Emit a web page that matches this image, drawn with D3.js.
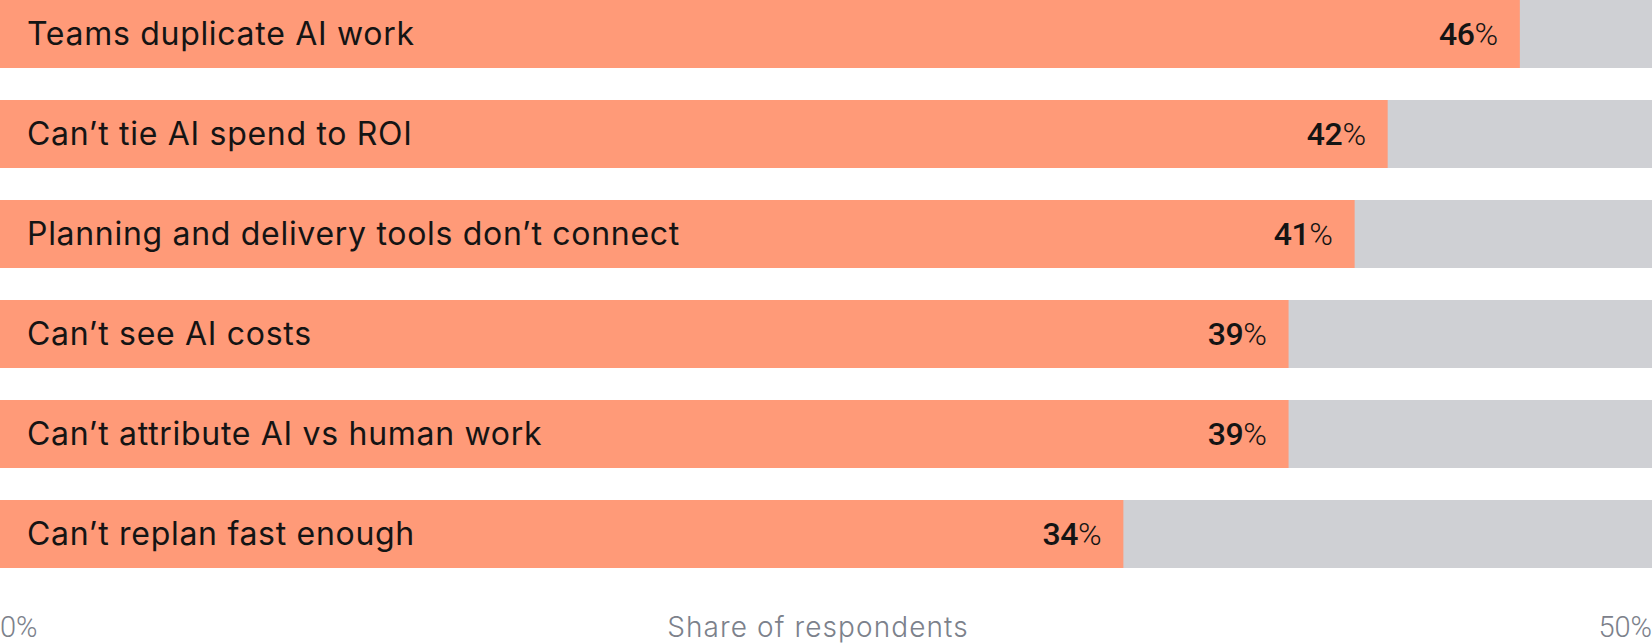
<!doctype html>
<html>
  <head>
    <meta charset="utf-8" />
    <title>Share of respondents</title>
    <style>
      html, body { margin: 0; padding: 0; background: #fff; }
      svg { display: block; }
      .label { font: 400 32px Inter, sans-serif; fill: #141414; letter-spacing: 0.7px; }
      .value { font: 500 32px Roboto, sans-serif; fill: #141414; letter-spacing: -0.4px; }
      .value .pct { font-weight: 300; }
      .axis-tick { font: 300 29px Roboto, sans-serif; fill: #7c818b; }
      .axis-title { font: 300 28px Inter, sans-serif; fill: #7c818b; letter-spacing: 1.1px; }
    </style>
  </head>
  <body>
    <div id="chart"></div>
    <script src="https://cdn.jsdelivr.net/npm/d3@7"></script>
    <script>
      var categories = [
        "Teams duplicate AI work",
        "Can\u2019t tie AI spend to ROI",
        "Planning and delivery tools don\u2019t connect",
        "Can\u2019t see AI costs",
        "Can\u2019t attribute AI vs human work",
        "Can\u2019t replan fast enough"
      ];
      var values = [46, 42, 41, 39, 39, 34];
      var axisMax = 50;
      var axisTicks = ["0%", "50%"];
      var axisTitle = "Share of respondents";

      var width = 1652, height = 644;

      var data = categories.map(function(c, i) { return {name: c, value: values[i]}; });

      var x = d3.scaleLinear().domain([0, axisMax]).range([0, width]);
      var y = d3.scaleBand()
                .domain(categories)
                .range([0, 568])
                .paddingInner(0.32)
                .paddingOuter(0);

      var svg = d3.select("#chart").append("svg")
                  .attr("width", width)
                  .attr("height", height);

      // grey track for the full scale
      svg.selectAll(".track")
         .data(data)
         .enter().append("rect")
         .attr("class", "track")
         .attr("x", x(0))
         .attr("y", function(d) { return y(d.name); })
         .attr("width", x(axisMax) - x(0))
         .attr("height", y.bandwidth())
         .attr("fill", "#cfd0d4");

      svg.selectAll(".bar")
         .data(data)
         .enter().append("rect")
         .attr("class", "bar")
         .attr("x", x(0))
         .attr("y", function(d) { return y(d.name); })
         .attr("width", function(d) { return x(d.value) - x(0); })
         .attr("height", y.bandwidth())
         .attr("fill", "#ff9a78");

      svg.selectAll(".label")
         .data(data)
         .enter().append("text")
         .attr("class", "label")
         .attr("x", 27)
         .attr("y", function(d) { return y(d.name) + y.bandwidth() / 2 + 11; })
         .text(function(d) { return d.name; });

      var val = svg.selectAll(".value")
         .data(data)
         .enter().append("text")
         .attr("class", "value")
         .attr("text-anchor", "end")
         .attr("x", function(d) { return x(d.value) - 22; })
         .attr("y", function(d) { return y(d.name) + y.bandwidth() / 2 + 11; });
      val.append("tspan").text(function(d) { return d.value; });
      val.append("tspan").attr("class", "pct").text("%");

      // axis ends and title
      svg.append("text")
         .attr("class", "axis-tick")
         .attr("x", x(0))
         .attr("y", 637)
         .text(axisTicks[0]);
      svg.append("text")
         .attr("class", "axis-tick")
         .attr("x", x(axisMax))
         .attr("y", 637)
         .attr("text-anchor", "end")
         .text(axisTicks[1]);
      svg.append("text")
         .attr("class", "axis-title")
         .attr("x", 818)
         .attr("y", 637)
         .attr("text-anchor", "middle")
         .text(axisTitle);
    </script>
  </body>
</html>
